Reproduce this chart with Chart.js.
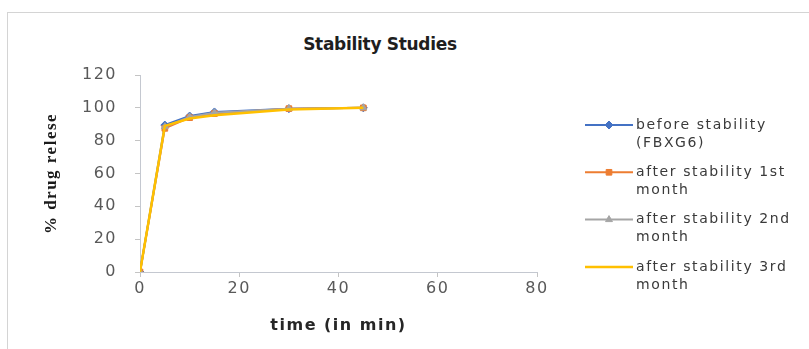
<!DOCTYPE html>
<html>
<head>
<meta charset="utf-8">
<script src="https://cdn.jsdelivr.net/npm/chart.js@4.4.1/dist/chart.umd.min.js"></script>
<style>
  html, body { margin: 0; padding: 0; background: #fff; }
  #wrap { position: relative; width: 809px; height: 349px; overflow: hidden; }
  #caixa { position: absolute; left: 7px; top: 12px; width: 900px; height: 400px; border: 1px solid #d4d4d4; box-sizing: border-box; }
  #titulo { position: absolute; left: 0; width: 760px; top: 34px; text-align: center; font: bold 17px "DejaVu Sans"; color: #1e1e1e; letter-spacing: -0.3px; }
  canvas { position: absolute; left: 0; top: 0; }
</style>
</head>
<body>
<div id="wrap">
  <div id="caixa"></div>
  <div id="titulo">Stability Studies</div>
  <canvas id="grafico" width="809" height="349"></canvas>
</div>
<script>
// tempos de coleta (min) e % liberada
const tempos = [0, 5, 10, 15, 30, 45]
const antes = [0, 89.5, 95, 97.5, 99.5, 100]
const mes_1 = [0, 87.5, 94, 96.5, 99.5, 100]
const mes_2 = [0, 88.5, 94.5, 97, 99.5, 100]
const mes_3 = [0, 89, 93.5, 95.5, 99, 100]

const nomes = [
  ['before stability', '(FBXG6)'],
  ['after stability 1st', 'month'],
  ['after stability 2nd', 'month'],
  ['after stability 3rd', 'month']
]
const cores = ['#4472C4', '#ED7D31', '#A5A5A5', '#FFC000']
const marcadores = ['rectRot', 'rect', 'triangle', false]
const raios = [4, 4, 4, 0]

const ticks_x = [0, 20, 40, 60, 80]
const ticks_y = [0, 20, 40, 60, 80, 100, 120]

const series = [antes, mes_1, mes_2, mes_3]

const datasets = series.map((valores, i) => ({
  label: nomes[i].join(' '),
  data: tempos.map((t, j) => ({ x: t, y: valores[j] })),
  borderColor: cores[i],
  backgroundColor: cores[i],
  borderWidth: i == 3 ? 2.5 : 2,
  pointStyle: marcadores[i],
  pointRadius: raios[i],
  pointBorderWidth: 1,
  order: 3 - i
}))

const espacamento = {
  id: 'espacamento',
  beforeUpdate(chart) { chart.ctx.letterSpacing = '1.5px' },
  beforeDraw(chart) { chart.ctx.letterSpacing = '1.5px' }
}

const legenda_lateral = {
  id: 'legenda_lateral',
  afterDraw(chart) {
    const ctx = chart.ctx
    ctx.save()
    ctx.font = '14px "DejaVu Sans"'
    ctx.letterSpacing = '1.6px'
    ctx.textBaseline = 'middle'
    chart.data.datasets.forEach((ds, i) => {
      const y = 125 + i * 47.3
      ctx.strokeStyle = ds.borderColor
      ctx.fillStyle = ds.backgroundColor
      ctx.lineWidth = ds.borderWidth
      ctx.beginPath()
      ctx.moveTo(585, y)
      ctx.lineTo(633, y)
      ctx.stroke()
      if (ds.pointStyle) {
        ctx.lineWidth = 1
        Chart.helpers.drawPoint(ctx, { pointStyle: ds.pointStyle, radius: ds.pointRadius, rotation: 0, borderWidth: 1 }, 609, y)
      }
      ctx.fillStyle = '#3a3a3a'
      nomes[i].forEach((linha, k) => ctx.fillText(linha, 636, y + k * 18))
    })
    ctx.restore()
  }
}

new Chart(document.getElementById('grafico'), {
  type: 'line',
  data: { datasets: datasets },
  plugins: [espacamento, legenda_lateral],
  options: {
    responsive: false,
    animation: false,
    layout: { padding: { left: 38, top: 75, right: 272, bottom: 11 } },
    plugins: { legend: { display: false }, title: { display: false }, tooltip: { enabled: false } },
    scales: {
      x: {
        type: 'linear',
        min: 0, max: 80,
        afterBuildTicks: s => { s.ticks = ticks_x.map(v => ({ value: v })) },
        afterFit: s => { s.height = 66 },
        grid: { drawOnChartArea: false, drawTicks: true, tickLength: 5, color: '#c4c4c4' },
        border: { color: '#c4c8d0' },
        ticks: { font: { family: 'DejaVu Sans', size: 16 }, color: '#595959', padding: 2, maxRotation: 0 },
        title: { display: true, text: 'time (in min)', font: { family: 'DejaVu Sans', size: 16, weight: 'bold' }, color: '#262626', padding: { top: 4, bottom: 3 } }
      },
      y: {
        min: 0, max: 120,
        afterBuildTicks: s => { s.ticks = ticks_y.map(v => ({ value: v })) },
        afterFit: s => { s.width = 102 },
        grid: { drawOnChartArea: false, drawTicks: true, tickLength: 5, color: '#c4c4c4' },
        border: { color: '#c4c8d0' },
        ticks: { font: { family: 'DejaVu Sans', size: 16 }, color: '#595959', padding: 18 },
        title: { display: true, text: '% drug relese', font: { family: 'Liberation Serif', size: 17, weight: 'bold' }, color: '#1a1a1a', padding: { top: 3, bottom: 4 } }
      }
    }
  }
})
</script>
</body>
</html>
